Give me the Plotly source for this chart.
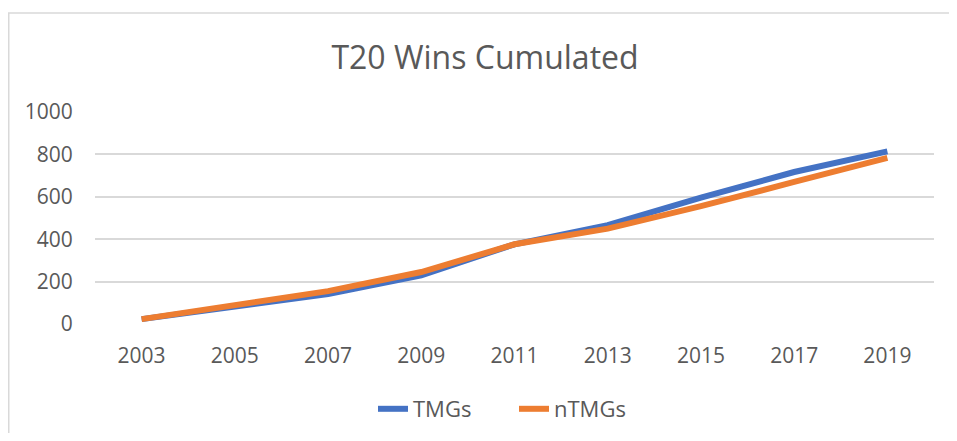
import plotly.graph_objects as go

years = ["2003", "2005", "2007", "2009", "2011", "2013", "2015", "2017", "2019"]
tmgs = [23, 84, 141, 230, 376, 466, 596, 717, 814]
ntmgs = [23, 86, 155, 245, 376, 450, 556, 670, 784]
y_ticks = [0, 200, 400, 600, 800, 1000]

O = 8  # page body offset
W, H = 957 - 2 * O, 441 - 2 * O
L, T = 95 - O, 112 - O
R, B = W - (934 - O), H - (324 - O)
pw, ph = W - L - R, H - T - B

FONT = "Open Sans"
TXT = "#595959"

fig = go.Figure()
fig.add_trace(go.Scatter(x=list(range(len(years))), y=tmgs, mode="lines", name="TMGs",
                         line=dict(color="#4472C4", width=6)))
fig.add_trace(go.Scatter(x=list(range(len(years))), y=ntmgs, mode="lines", name="nTMGs",
                         line=dict(color="#ED7D31", width=6)))

fig.update_layout(
    width=W, height=H,
    margin=dict(l=L, r=R, t=T, b=B, autoexpand=False),
    paper_bgcolor="white", plot_bgcolor="white",
    font=dict(family=FONT, color=TXT, size=21),
    title=dict(text="T20 Wins Cumulated", x=(485 - O) / W, xanchor="center",
               y=1 - (58 - O) / H, yanchor="middle", yref="container",
               font=dict(size=32, color=TXT, family=FONT), automargin=False),
    showlegend=True,
    legend=dict(orientation="h", xref="container", yref="container",
                x=(378 - O - 5) / W, xanchor="left", y=1 - (409 - O) / H, yanchor="middle",
                font=dict(size=22, color=TXT), tracegroupgap=0,
                entrywidth=96, entrywidthmode="pixels",
                bgcolor="rgba(0,0,0,0)"),
    xaxis=dict(range=[-0.5, len(years) - 0.5], tickmode="array",
               tickvals=list(range(len(years))), ticktext=years,
               showgrid=False, zeroline=False, showline=False,
               ticks="outside", ticklen=13, tickcolor="rgba(0,0,0,0)",
               fixedrange=True, automargin=False),
    yaxis=dict(range=[0, 1000], tickmode="array", tickvals=y_ticks,
               showgrid=True, gridcolor="#D9D9D9", gridwidth=1.5,
               zeroline=False, showline=False,
               ticks="outside", ticklen=17, tickcolor="rgba(0,0,0,0)",
               automargin=False),
    shapes=[dict(type="rect", xref="paper", yref="paper",
                 x0=(0.75 - L) / pw, x1=1 + (R + 40) / pw,
                 y0=-(B + 40) / ph, y1=1 + (T - (13 - O)) / ph,
                 line=dict(color="#D9D9D9", width=1.5), fillcolor="rgba(0,0,0,0)",
                 layer="below")],
)

fig.write_html("out.html")
